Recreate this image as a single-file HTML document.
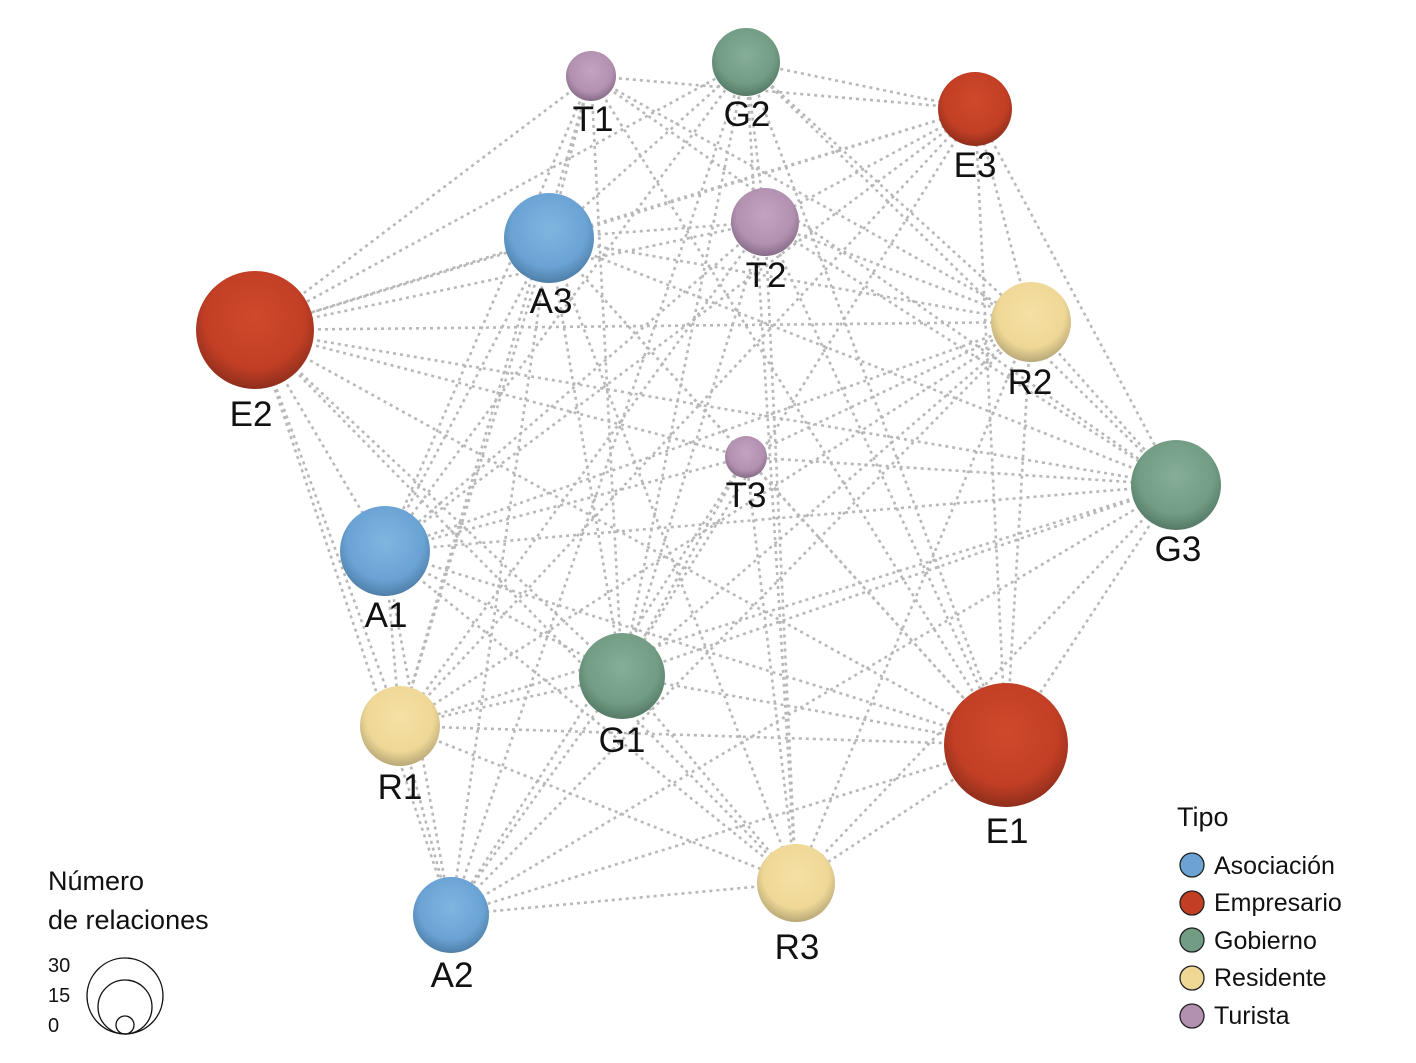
<!DOCTYPE html>
<html><head><meta charset="utf-8"><style>
html,body{margin:0;padding:0;background:#fff;}
svg{display:block;font-family:"Liberation Sans",sans-serif;}
</style></head><body>
<svg width="1416" height="1063" viewBox="0 0 1416 1063" xmlns="http://www.w3.org/2000/svg">
<defs>
<radialGradient id="gA" cx="50%" cy="40%" r="60%"><stop offset="0" stop-color="#7fb6e0"/><stop offset="0.7" stop-color="#6aa3d4"/><stop offset="1" stop-color="#4f7fa8"/></radialGradient>
<radialGradient id="gE" cx="50%" cy="40%" r="60%"><stop offset="0" stop-color="#cf4a2c"/><stop offset="0.7" stop-color="#c23f25"/><stop offset="1" stop-color="#8f2e1c"/></radialGradient>
<radialGradient id="gG" cx="50%" cy="40%" r="60%"><stop offset="0" stop-color="#86ae98"/><stop offset="0.7" stop-color="#729c84"/><stop offset="1" stop-color="#557a66"/></radialGradient>
<radialGradient id="gR" cx="50%" cy="40%" r="60%"><stop offset="0" stop-color="#f5e0a6"/><stop offset="0.7" stop-color="#efd896"/><stop offset="1" stop-color="#b8a878"/></radialGradient>
<radialGradient id="gT" cx="50%" cy="40%" r="60%"><stop offset="0" stop-color="#c4a2c2"/><stop offset="0.7" stop-color="#b290b0"/><stop offset="1" stop-color="#866c88"/></radialGradient>
</defs>
<path fill="none" stroke="#b8b8b8" stroke-width="2.6" stroke-dasharray="3 4" d="
M591 76L975 109M591 76L549 238M591 76L255 330M591 76L1031 322M591 76L1176 485M591 76L385 551M591 76L622 676M591 76L400 726M591 76L1006 745
M746 62L975 109M746 62L549 238M746 62L765 222M746 62L255 330M746 62L1031 322M746 62L1176 485M746 62L385 551M746 62L622 676M746 62L1006 745M746 62L796 883M746 62L451 915
M975 109L549 238M975 109L765 222M975 109L255 330M975 109L1031 322M975 109L1176 485M975 109L385 551M975 109L622 676M975 109L1006 745M975 109L400 726
M549 238L765 222M549 238L255 330M549 238L1031 322M549 238L746 457M549 238L1176 485M549 238L385 551M549 238L622 676M549 238L400 726M549 238L1006 745M549 238L796 883M549 238L451 915
M765 222L255 330M765 222L1031 322M765 222L1176 485M765 222L385 551M765 222L622 676M765 222L400 726M765 222L1006 745M765 222L796 883
M255 330L1031 322M255 330L746 457M255 330L1176 485M255 330L385 551M255 330L622 676M255 330L400 726M255 330L1006 745M255 330L796 883M255 330L451 915
M1031 322L746 457M1031 322L1176 485M1031 322L385 551M1031 322L622 676M1031 322L400 726M1031 322L1006 745M1031 322L796 883M1031 322L451 915
M746 457L1176 485M746 457L385 551M746 457L622 676M746 457L1006 745M746 457L796 883M746 457L451 915
M1176 485L385 551M1176 485L622 676M1176 485L400 726M1176 485L1006 745M1176 485L796 883M1176 485L451 915
M385 551L622 676M385 551L400 726M385 551L1006 745M385 551L796 883M385 551L451 915
M622 676L400 726M622 676L1006 745M622 676L796 883M622 676L451 915
M400 726L1006 745M400 726L796 883M400 726L451 915
M1006 745L796 883M1006 745L451 915M796 883L451 915"/>
<g>
<circle cx="591" cy="76" r="25" fill="url(#gT)"/>
<circle cx="746" cy="62" r="34" fill="url(#gG)"/>
<circle cx="975" cy="109" r="37" fill="url(#gE)"/>
<circle cx="549" cy="238" r="45" fill="url(#gA)"/>
<circle cx="765" cy="222" r="34" fill="url(#gT)"/>
<circle cx="255" cy="330" r="59" fill="url(#gE)"/>
<circle cx="1031" cy="322" r="40" fill="url(#gR)"/>
<circle cx="746" cy="457" r="21" fill="url(#gT)"/>
<circle cx="1176" cy="485" r="45" fill="url(#gG)"/>
<circle cx="385" cy="551" r="45" fill="url(#gA)"/>
<circle cx="622" cy="676" r="43" fill="url(#gG)"/>
<circle cx="400" cy="726" r="40" fill="url(#gR)"/>
<circle cx="1006" cy="745" r="62" fill="url(#gE)"/>
<circle cx="796" cy="883" r="39" fill="url(#gR)"/>
<circle cx="451" cy="915" r="38" fill="url(#gA)"/>
</g>
<g font-size="35" fill="#111" text-anchor="middle">
<text x="593" y="131">T1</text>
<text x="747" y="126">G2</text>
<text x="975" y="177">E3</text>
<text x="551" y="313">A3</text>
<text x="766" y="287">T2</text>
<text x="251" y="426">E2</text>
<text x="1030" y="394">R2</text>
<text x="746" y="507">T3</text>
<text x="1178" y="561">G3</text>
<text x="386" y="627">A1</text>
<text x="622" y="752">G1</text>
<text x="400" y="799">R1</text>
<text x="1007" y="843">E1</text>
<text x="797" y="959">R3</text>
<text x="452" y="987">A2</text>
</g>
<g font-size="27" fill="#111">
<text x="48" y="890">Número</text>
<text x="48" y="929">de relaciones</text>
<text x="1177" y="826">Tipo</text>
</g>
<g font-size="20" fill="#111">
<text x="48" y="972">30</text>
<text x="48" y="1002">15</text>
<text x="48" y="1032">0</text>
</g>
<g fill="none" stroke="#111" stroke-width="1.3">
<circle cx="125" cy="996" r="38"/>
<circle cx="125" cy="1007" r="27"/>
<circle cx="125" cy="1025" r="9"/>
</g>
<g stroke="#222" stroke-width="1.3">
<circle cx="1192" cy="865" r="12" fill="#6aa3d4"/>
<circle cx="1192" cy="903" r="12" fill="#c23f25"/>
<circle cx="1192" cy="940" r="12" fill="#729c84"/>
<circle cx="1192" cy="978" r="12" fill="#efd896"/>
<circle cx="1192" cy="1016" r="12" fill="#b290b0"/>
</g>
<g font-size="25" fill="#111">
<text x="1214" y="874">Asociación</text>
<text x="1214" y="911">Empresario</text>
<text x="1214" y="949">Gobierno</text>
<text x="1214" y="986">Residente</text>
<text x="1214" y="1024">Turista</text>
</g>
</svg>
</body></html>
